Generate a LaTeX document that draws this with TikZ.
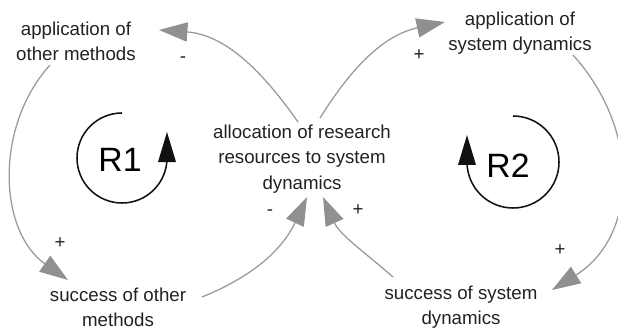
\documentclass[tikz,border=0pt]{standalone}
\usepackage{fontspec}
\setmainfont{Liberation Sans}
\usetikzlibrary{arrows.meta,calc}
\definecolor{cldInk}{HTML}{222222}
\definecolor{cldLink}{HTML}{9A9A9A}
\definecolor{cldHead}{HTML}{909090}
\definecolor{cldLoop}{HTML}{111111}

\begin{document}
\begin{tikzpicture}[x=1cm,y=1cm,
  font=\fontsize{13.3}{18}\selectfont,text=cldInk,
  cldvar/.style={align=center,inner sep=0pt},
  cldlink/.style={draw=cldLink,line width=0.9pt,-{Triangle[length=7.1mm,width=4.8mm,color=cldHead,fill=cldHead]}},
  cldsign/.style={inner sep=0pt},
  cldloop/.style={draw=cldLoop,line width=1.1pt,-{Triangle[length=7.5mm,width=4.4mm]}},
  cldtag/.style={font=\fontsize{24}{28}\selectfont,text=black}]
  \fill[white] (0,0) rectangle (15.45,8.225);
  \path[use as bounding box] (0,0) rectangle (15.45,8.225);

  \node[cldvar] (aom) at (1.9,7.2) {application of\\other methods};
  \node[cldvar] (asd) at (13.0,7.4) {application of\\system dynamics};
  \node[cldvar] (ars) at (7.55,4.25) {allocation of research\\resources to system\\dynamics};
  \node[cldvar] (som) at (2.95,0.55) {success of other\\methods};
  \node[cldvar] (ssd) at (11.525,0.55) {success of system\\dynamics};

  % links of the two loops, each ends a little off its variable
  \draw[cldlink] ($(ars)+(-0.1,0.925)$) to[out=125,in=-4] ($(aom)+(2.075,0.275)$);
  \draw[cldlink] ($(aom)+(-0.65,-0.6)$) to[out=228,in=145] ($(som)+(-1.25,0.675)$);
  \draw[cldlink] ($(som)+(2.1,0.25)$) to[out=22,in=245] ($(ars)+(0.125,-0.95)$);
  \draw[cldlink] ($(ssd)+(-1.7,0.75)$) to[out=139,in=294] ($(ars)+(0.525,-0.95)$);
  \draw[cldlink] ($(ars)+(0.45,1.025)$) to[out=58,in=192] ($(asd)+(-1.875,0.275)$);
  \draw[cldlink] ($(asd)+(1.325,-0.55)$) to[out=-48,in=32,looseness=1.1] ($(ssd)+(2.275,0.425)$);

  \node[cldsign] (s1) at (4.575,6.725) {-};
  \node[cldsign] (s2) at (1.5,2.15) {+};
  \node[cldsign] (s3) at (6.75,2.9) {-};
  \node[cldsign] (s4) at (8.95,2.975) {+};
  \node[cldsign] (s5) at (10.475,6.85) {+};
  \node[cldsign] (s6) at (14.0,1.975) {+};

  % loop markers
  \node[cldtag] (r1) at (3.0,4.225) {R1};
  \node[cldtag] (r2) at (12.7,4.075) {R2};
  \draw[cldloop] (3.05,5.4) arc[start angle=90,end angle=360,radius=1.125] -- ++(0,0.65);
  \draw[cldloop] (12.825,5.325) arc[start angle=90,end angle=-180,radius=1.15] -- ++(0,0.675);
\end{tikzpicture}
\end{document}
